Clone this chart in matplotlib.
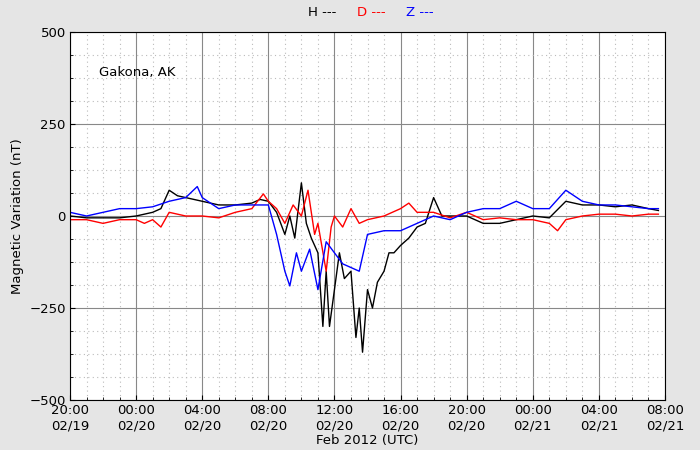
import matplotlib
matplotlib.use("Agg")
import matplotlib.pyplot as plt
import numpy as np
from matplotlib.ticker import MultipleLocator

# hours relative to 2012-02-20 00:00 UTC
h_t = [-4,-3,-2,-1,0,1,1.5,2,2.5,3,4,5,6,7,7.5,8,8.5,9,9.3,9.6,10,10.3,10.6,11,11.3,11.5,11.7,12,12.3,12.6,13,13.3,13.5,13.7,14,14.3,14.6,15,15.3,15.6,16,16.5,17,17.5,18,18.5,19,20,21,22,23,24,25,26,27,28,29,30,31,31.6]
h_v = [0,-5,-5,-5,0,10,20,70,55,50,40,30,30,35,45,40,10,-50,0,-60,90,-20,-60,-100,-300,-150,-300,-200,-100,-170,-150,-330,-250,-370,-200,-250,-180,-150,-100,-100,-80,-60,-30,-20,50,0,0,0,-20,-20,-10,0,-5,40,30,30,25,30,20,15]
d_t = [-4,-3,-2,-1,0,0.5,1,1.5,2,3,4,5,6,7,7.7,8,8.5,9,9.5,10,10.4,10.8,11,11.5,11.8,12,12.5,13,13.5,14,15,16,16.5,17,18,19,20,21,22,23,24,25,25.5,26,27,28,29,30,31,31.6]
d_v = [-10,-10,-20,-10,-10,-20,-10,-30,10,0,0,-5,10,20,60,40,20,-20,30,0,70,-50,-20,-150,-30,0,-30,20,-20,-10,0,20,35,10,10,-5,10,-10,-5,-10,-10,-20,-40,-10,0,5,5,0,5,5]
z_t = [-4,-3,-2,-1,0,1,2,3,3.7,4,5,6,7,8,8.5,9,9.3,9.7,10,10.5,11,11.5,12,12.5,13,13.5,14,15,16,16.5,17,18,19,20,21,22,23,24,25,26,27,28,29,30,31,31.6]
z_v = [10,0,10,20,20,25,40,50,80,50,20,30,30,30,-50,-150,-190,-100,-150,-90,-200,-70,-100,-130,-140,-150,-50,-40,-40,-30,-20,0,-10,10,20,20,40,20,20,70,40,30,30,25,20,20]

fig = plt.figure(figsize=(7,4.5), dpi=100, facecolor="#e5e5e5")
ax = fig.add_axes([0.1, 0.111, 0.85, 0.818])
ax.plot(h_t, h_v, color="black", lw=1)
ax.plot(d_t, d_v, color="red", lw=1)
ax.plot(z_t, z_v, color="blue", lw=1)
ax.set_xlim(-4, 32); ax.set_ylim(-500, 500)
ax.xaxis.set_major_locator(MultipleLocator(4))
ax.xaxis.set_minor_locator(MultipleLocator(1))
ax.yaxis.set_major_locator(MultipleLocator(250))
ax.yaxis.set_minor_locator(MultipleLocator(62.5))
ax.grid(which="major", color="#888888", lw=0.8)
ax.grid(which="minor", color="#bbbbbb", lw=0.8, ls=(0,(1,3)))
labels = ["20:00\n02/19","00:00\n02/20","04:00\n02/20","08:00\n02/20","12:00\n02/20","16:00\n02/20","20:00\n02/20","00:00\n02/21","04:00\n02/21","08:00\n02/21"]
ax.set_xticks(range(-4,33,4)); ax.set_xticklabels(labels)
ax.set_yticks([-500,-250,0,250,500]); ax.set_yticklabels(["\u2212500","\u2212250","0","250","500"])
ax.tick_params(labelsize=9.5, direction="in", which="both", pad=3)
ax.set_xlabel("Feb 2012 (UTC)", fontsize=9.5, labelpad=1)
ax.set_ylabel("Magnetic Variation (nT)", fontsize=9.5)
ax.text(0.048, 0.88, "Gakona, AK", transform=ax.transAxes, fontsize=9.5)
fig.text(0.44, 0.965, "H ---", color="black", fontsize=9.5)
fig.text(0.51, 0.965, "D ---", color="red", fontsize=9.5)
fig.text(0.58, 0.965, "Z ---", color="blue", fontsize=9.5)
fig.savefig("out.png", facecolor=fig.get_facecolor())
